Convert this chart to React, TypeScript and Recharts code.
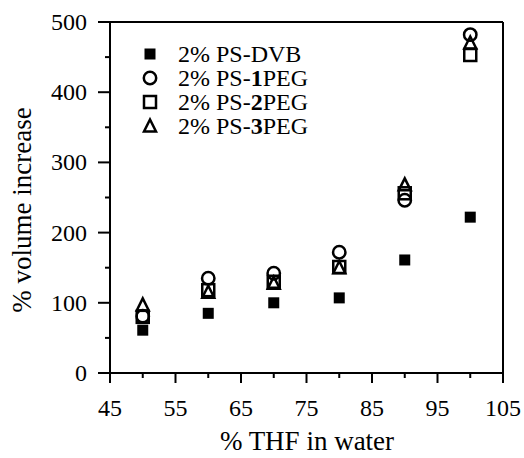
import { ReferenceLine, Scatter, ScatterChart, XAxis, YAxis } from 'recharts';

const thf = [50, 60, 70, 80, 90, 100];
const dvb = [61, 85, 100, 107, 161, 222];
const peg1 = [81, 135, 142, 172, 246, 482];
const peg2 = [80, 118, 130, 151, 256, 453];
const peg3 = [97, 115, 128, 150, 268, 470];

const xTicks = [45, 50, 55, 60, 65, 70, 75, 80, 85, 90, 95, 100, 105];
const yTicks = [0, 50, 100, 150, 200, 250, 300, 350, 400, 450, 500];

const FONT = 'Liberation Serif, Times New Roman, Times, serif';

const toPoints = (vals: number[]) => thf.map((x, i) => ({ x, y: vals[i] }));

function FilledSquare({ cx, cy }: any) {
  return <rect x={cx - 5.5} y={cy - 5.5} width={11} height={11} fill="#000" />;
}
function OpenCircle({ cx, cy }: any) {
  return <circle cx={cx} cy={cy} r={6.2} fill="none" stroke="#000" strokeWidth={2.5} />;
}
function OpenSquare({ cx, cy }: any) {
  return <rect x={cx - 6} y={cy - 6} width={12} height={12} fill="none" stroke="#000" strokeWidth={2.5} />;
}
function OpenTriangle({ cx, cy }: any) {
  const h = 11;
  return (
    <polygon
      points={`${cx},${cy - h / 2 - 1} ${cx - 6},${cy + h / 2} ${cx + 6},${cy + h / 2}`}
      fill="none"
      stroke="#000"
      strokeWidth={2.5}
    />
  );
}

function XTick({ x, y, payload }: any) {
  const v = payload.value;
  const major = (v - 45) % 10 === 0;
  return (
    <g>
      <line x1={x} y1={y} x2={x} y2={y + (major ? 10 : 5)} stroke="#000" strokeWidth={2} />
      {major && (
        <text x={x} y={y + 43} textAnchor="middle" style={{ fontFamily: FONT, fontSize: 24 }} fill="#000">
          {v}
        </text>
      )}
    </g>
  );
}

function YTick({ x, y, payload }: any) {
  const v = payload.value;
  const major = v % 100 === 0;
  return (
    <g>
      <line x1={x} y1={y} x2={x - (major ? 12 : 5)} y2={y} stroke="#000" strokeWidth={2} />
      {major && (
        <text x={x - 23} y={y + 8} textAnchor="end" style={{ fontFamily: FONT, fontSize: 24 }} fill="#000">
          {v}
        </text>
      )}
    </g>
  );
}

const legendItems = [
  { pre: '2% PS-DVB', bold: '', post: '', icon: <FilledSquare cx={10} cy={10} /> },
  { pre: '2% PS-', bold: '1', post: 'PEG', icon: <OpenCircle cx={10} cy={10} /> },
  { pre: '2% PS-', bold: '2', post: 'PEG', icon: <OpenSquare cx={10} cy={10} /> },
  { pre: '2% PS-', bold: '3', post: 'PEG', icon: <OpenTriangle cx={10} cy={10} /> },
];

export default function App() {
  return (
    <div style={{ position: 'absolute', left: 0, top: 0, width: 524, height: 458, background: '#fff', fontFamily: FONT }}>
      <ScatterChart width={524} height={458} margin={{ top: 22, right: 21, left: 0, bottom: 0 }}>
        <XAxis
          type="number"
          dataKey="x"
          domain={[45, 105]}
          ticks={xTicks}
          interval={0}
          height={85}
          tickSize={0}
          tickMargin={0}
          tickLine={false}
          axisLine={{ stroke: '#000', strokeWidth: 2 }}
          tick={<XTick />}
          label={{
            content: () => (
              <text x={307} y={450} textAnchor="middle" style={{ fontFamily: FONT, fontSize: 27 }} fill="#000">
                % THF in water
              </text>
            ),
          }}
        />
        <YAxis
          type="number"
          dataKey="y"
          domain={[0, 500]}
          ticks={yTicks}
          interval={0}
          width={110}
          tickSize={0}
          tickMargin={0}
          tickLine={false}
          axisLine={{ stroke: '#000', strokeWidth: 2 }}
          tick={<YTick />}
          label={{
            content: () => (
              <text
                x={31}
                y={210}
                transform="rotate(-90 31 210)"
                textAnchor="middle"
                style={{ fontFamily: FONT, fontSize: 27 }}
                fill="#000"
              >
                % volume increase
              </text>
            ),
          }}
        />
        <ReferenceLine y={500} stroke="#000" strokeWidth={2} />
        <ReferenceLine x={105} stroke="#000" strokeWidth={2} />
        <Scatter data={toPoints(dvb)} shape={FilledSquare} isAnimationActive={false} />
        <Scatter data={toPoints(peg1)} shape={OpenCircle} isAnimationActive={false} />
        <Scatter data={toPoints(peg2)} shape={OpenSquare} isAnimationActive={false} />
        <Scatter data={toPoints(peg3)} shape={OpenTriangle} isAnimationActive={false} />
      </ScatterChart>
      <div style={{ position: 'absolute', left: 140, top: 42, fontFamily: FONT, fontSize: 24, color: '#000' }}>
        {legendItems.map((it) => (
          <div key={it.pre + it.bold} style={{ display: 'flex', alignItems: 'center', height: 24, lineHeight: '24px' }}>
            <svg width={20} height={20} style={{ marginRight: 18 }}>
              {it.icon}
            </svg>
            <span>
              {it.pre}
              {it.bold && <b>{it.bold}</b>}
              {it.post}
            </span>
          </div>
        ))}
      </div>
    </div>
  );
}
